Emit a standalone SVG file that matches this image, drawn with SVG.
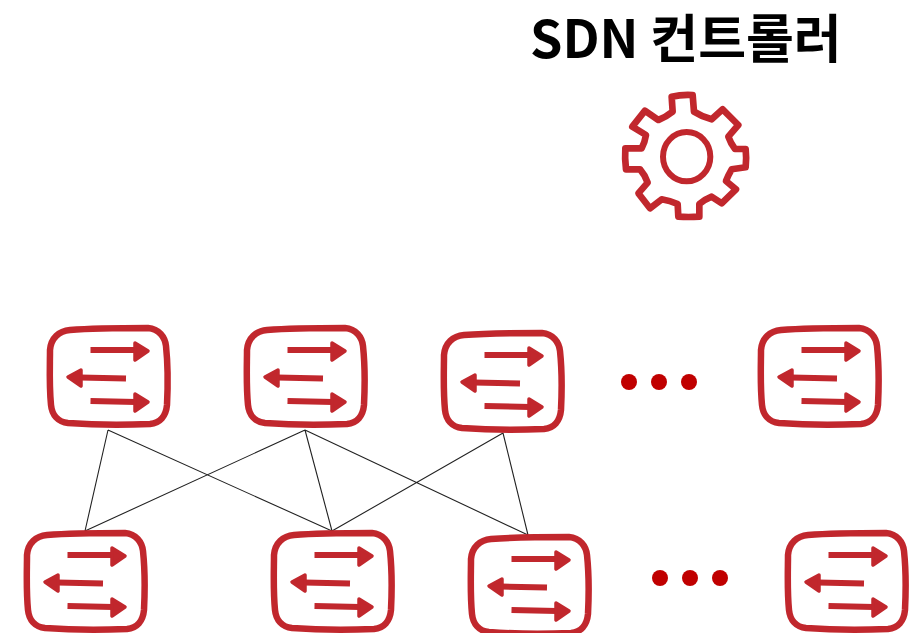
<svg xmlns="http://www.w3.org/2000/svg" width="913" height="633" viewBox="0 0 913 633">
<style>
.box{fill:none;stroke:#c1272d;stroke-width:6.500;stroke-linejoin:round}
.sh{stroke:#c1272d;stroke-width:6;stroke-linecap:butt;fill:none}
.hd{fill:#c1272d;stroke:#c1272d;stroke-width:3.500;stroke-linejoin:round}
.dot{fill:#c00000}
.ln{stroke:#222;stroke-width:1.100;fill:none}
.t{font-family:"Noto Sans CJK KR","Noto Sans",sans-serif;font-weight:700;font-size:52px;fill:#000}
</style>
<defs>
<g id="sw">
<path class="box" d="M40,20C65,18 95,18 118,18C129,19 135,27 136,36C138,55 138,75 137,95C136,106 130,113 120,114C95,115 65,115 38,113C28,112 22,105 21,95C19,75 20,55 20,40C21,28 29,21 40,20Z"/>
<path class="sh" d="M60.500,40L106,40"/><path class="hd" d="M105,33L118,41L105,50Z"/>
<path class="sh" d="M96,68.500L50,67.500"/><path class="hd" d="M51,60L38,67L51,76Z"/>
<path class="sh" d="M60.500,91L106,92"/><path class="hd" d="M105,84L118,92L105,101Z"/>
</g>
</defs>
<g id="connectors">
<path class="ln" d="M108,430L85,531M108,430L332,531M305,430L85,531M305,430L332,531M305,430L528,535M503,433L332,531M503,433L528,535"/>
</g>
<g id="title"><text class="t" x="530" y="58">SDN 컨트롤러</text></g>
<g id="controller" transform="translate(600,80) scale(.3333)">
<path d="M215,50Q245,43 278,45L282,95Q305,110 335,118L368,88L415,135L385,170Q392,190 405,207L437,207Q440,235 437,262L395,268Q385,285 378,303L408,328L365,370L335,350Q315,358 298,372L298,410Q265,412 235,410L233,372Q210,362 185,358L150,385L115,340L143,308Q135,285 120,268L78,268Q74,235 76,205L125,205Q135,185 138,165L97,140L135,92L175,120Q197,112 218,95Z" fill="none" stroke="#c1272d" stroke-width="20" stroke-linejoin="round"/>
<ellipse cx="260" cy="230" rx="71" ry="74" fill="none" stroke="#c1272d" stroke-width="18"/>
</g>
<g id="s1"><use href="#sw" x="30" y="310"/></g>
<g id="s2"><use href="#sw" x="227" y="310"/></g>
<g id="s3"><use href="#sw" x="424" y="315"/></g>
<g id="s4"><use href="#sw" x="741" y="310"/></g>
<g id="s5"><use href="#sw" x="7" y="515"/></g>
<g id="s6"><use href="#sw" x="254" y="515"/></g>
<g id="s7"><use href="#sw" x="451" y="519"/></g>
<g id="s8"><use href="#sw" x="768" y="515"/></g>
<g id="dots-top"><circle class="dot" cx="629" cy="382" r="8"/><circle class="dot" cx="659" cy="382" r="8"/><circle class="dot" cx="689" cy="382" r="8"/></g>
<g id="dots-bottom"><circle class="dot" cx="660" cy="578" r="8"/><circle class="dot" cx="690" cy="578" r="8"/><circle class="dot" cx="720" cy="578" r="8"/></g>
</svg>
